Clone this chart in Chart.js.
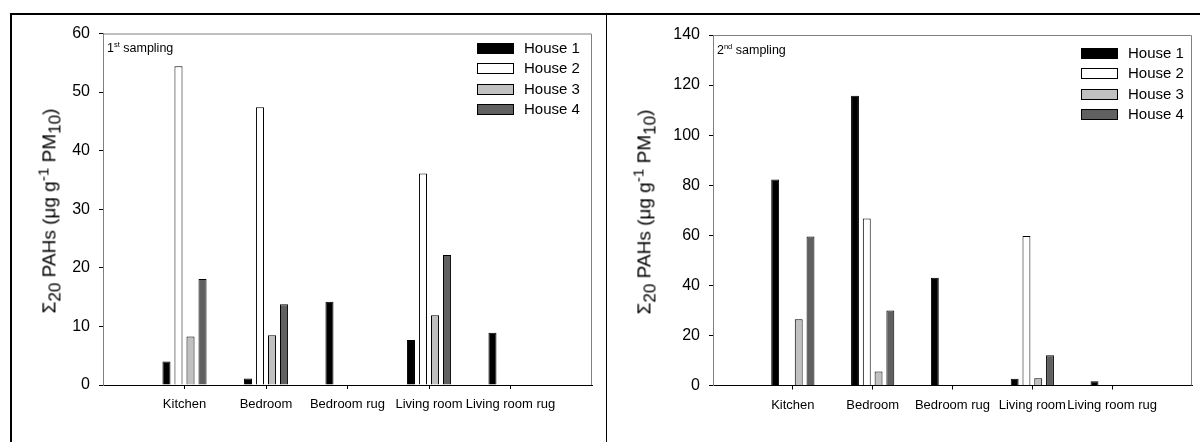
<!DOCTYPE html>
<html>
<head>
<meta charset="utf-8">
<script src="https://cdn.jsdelivr.net/npm/chart.js@4.4.1/dist/chart.umd.min.js"></script>
<style>
body { margin: 0; background: #fff; font-family: "Liberation Sans", Arial, sans-serif; }
#page { position: relative; width: 1200px; height: 442px; overflow: hidden; background: #fff; }
.holder { position: absolute; top: 0; width: 600px; height: 442px; }
.line { position: absolute; background: #000; }
.ytitle { position: absolute; font-size: 19px; white-space: nowrap; transform: translate(-50%, -50%) rotate(-90deg); }
.ytitle sub { font-size: 0.9em; }
.ytitle sup { font-size: 0.8em; }
.tag { position: absolute; font-size: 12.5px; white-space: nowrap; }
.tag sup { font-size: 0.6em; }
.legend { position: absolute; font-size: 15px; }
.legend div { height: 20.4px; line-height: 20.4px; white-space: nowrap; }
.legend span { display: inline-block; width: 35px; height: 9px; border: 1px solid #000; margin-right: 10px; vertical-align: -1px; }
</style>
</head>
<body>
<div id="page">
  <div class="line" style="left:10px; top:13px; width:1190px; height:2px"></div>
  <div class="line" style="left:10px; top:13px; width:2px; height:429px"></div>
  <div class="line" style="left:606px; top:13px; width:1px; height:429px"></div>

  <div class="holder" style="left:0"><canvas id="chart-first"></canvas></div>
  <div class="holder" style="left:600px"><canvas id="chart-second"></canvas></div>

  <div class="ytitle" style="left:50px; top:211px">&Sigma;<sub>20</sub> PAHs (&mu;g g<sup>-1</sup> PM<sub>10</sub>)</div>
  <div class="ytitle" style="left:645px; top:212px">&Sigma;<sub>20</sub> PAHs (&mu;g g<sup>-1</sup> PM<sub>10</sub>)</div>

  <div class="tag" style="left:107px; top:40px">1<sup>st</sup> sampling</div>
  <div class="tag" style="left:717px; top:42px">2<sup>nd</sup> sampling</div>

  <div class="legend" id="legend-first" style="left:477px; top:38px"></div>
  <div class="legend" id="legend-second" style="left:1081px; top:43px"></div>
</div>
<script>
var places = ["Kitchen", "Bedroom", "Bedroom rug", "Living room", "Living room rug"];
var houses = ["House 1", "House 2", "House 3", "House 4"];
var fills = ["#000000", "#ffffff", "#c0c0c0", "#606060"];

// 1st sampling
var first_house1 = [4.0, 1.1, 14.2, 7.7, 8.9];
var first_house2 = [54.4, 47.4, null, 36.1, null];
var first_house3 = [8.3, 8.5, null, 11.9, null];
var first_house4 = [18.1, 13.8, null, 22.2, null];

// 2nd sampling
var second_house1 = [82.3, 115.7, 43.0, 2.7, 1.7];
var second_house2 = [null, 66.7, null, 59.7, null];
var second_house3 = [26.5, 5.6, null, 2.9, null];
var second_house4 = [59.5, 30.0, null, 12.1, null];

// empty slot before Kitchen and after Living room rug
var axisLabels = [""].concat(places).concat([""]);

Chart.defaults.font.family = '"Liberation Sans", Arial, sans-serif';
Chart.defaults.color = "#000";

var frame = {
    id: "frame",
    afterDatasetsDraw: function(chart) {
        var a = chart.chartArea, c = chart.ctx;
        c.save();
        c.strokeStyle = "#808080";
        c.lineWidth = 1;
        c.beginPath();
        c.moveTo(a.left, a.top + 0.5);
        c.lineTo(a.right - 0.5, a.top + 0.5);
        c.lineTo(a.right - 0.5, a.bottom);
        c.stroke();
        c.restore();
    }
};

function pad(arr) {
    return [null].concat(arr).concat([null]);
}

function drawChart(id, series, ymax, ystep, box) {
    return new Chart(document.getElementById(id), {
        type: "bar",
        data: {
            labels: axisLabels,
            datasets: series.map(function(s, i) {
                return {
                    label: houses[i],
                    data: pad(s),
                    backgroundColor: fills[i],
                    borderColor: "#000",
                    borderWidth: 1,
                    categoryPercentage: 0.59,
                    barPercentage: 0.67
                };
            })
        },
        options: {
            responsive: true,
            maintainAspectRatio: false,
            animation: false,
            layout: { padding: { top: box.top, right: box.right, bottom: 0, left: 0 } },
            plugins: { legend: { display: false }, tooltip: { enabled: false } },
            scales: {
                x: {
                    offset: false,
                    grid: {
                        offset: false,
                        drawOnChartArea: false,
                        tickLength: 4,
                        tickColor: function(ctx) { return axisLabels[ctx.index] ? "#000" : "rgba(0,0,0,0)"; }
                    },
                    border: { color: "#000" },
                    ticks: { autoSkip: false, maxRotation: 0, padding: 8, font: { size: 13 } },
                    afterFit: function(s) { s.height = box.xh; }
                },
                y: {
                    min: 0,
                    max: ymax,
                    grid: { drawOnChartArea: false, tickLength: 4, tickColor: "#000" },
                    border: { color: "#808080" },
                    ticks: { stepSize: ystep, padding: 9, font: { size: 16 } },
                    afterFit: function(s) { s.width = box.yw; }
                }
            }
        },
        plugins: [frame]
    });
}

drawChart("chart-first", [first_house1, first_house2, first_house3, first_house4], 60, 10,
    { top: 33.5, right: 8, yw: 103, xh: 57 });
drawChart("chart-second", [second_house1, second_house2, second_house3, second_house4], 140, 20,
    { top: 35, right: 1, yw: 113, xh: 56.5 });

function buildLegend(id) {
    var el = document.getElementById(id);
    houses.forEach(function(h, i) {
        var row = document.createElement("div");
        var sw = document.createElement("span");
        sw.style.background = fills[i];
        row.appendChild(sw);
        row.appendChild(document.createTextNode(h));
        el.appendChild(row);
    });
}
buildLegend("legend-first");
buildLegend("legend-second");
</script>
</body>
</html>
